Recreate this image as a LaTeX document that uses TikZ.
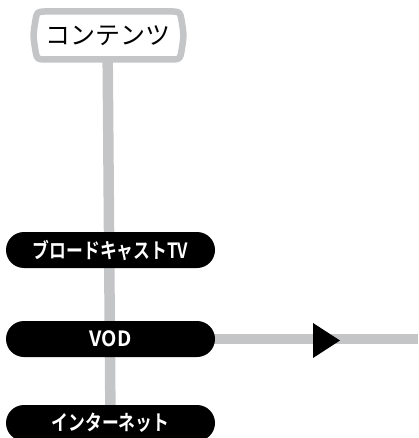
\documentclass[tikz,border=0pt]{standalone}
\usepackage{fontspec}
\newfontfamily\jp{Noto Sans CJK JP}
\newfontfamily\jpb{Noto Sans CJK JP Bold}
\usetikzlibrary{backgrounds}
\definecolor{linegray}{HTML}{C4C5C7}
\tikzset{
  pill/.style={fill=black, text=white, rounded corners=18pt, minimum width=209pt,
    minimum height=36pt, inner sep=0pt, font=\jpb\fontsize{21}{21}\selectfont},
  conn/.style={draw=linegray, line width=10.5pt},
  topbox/.style={draw=linegray, line width=6.5pt, fill=white, line join=round},
}
\begin{document}
\begin{tikzpicture}[x=1pt, y=-1pt]
\useasboundingbox (0,0) rectangle (418,438);
\node (cont) at (107.5,36) {\jp\fontsize{25}{25}\selectfont コンテンツ};
\node[pill] (btv) at (110.5,250) {\scalebox{0.8}[1]{ブロードキャストTV}};
\node[pill] (vod) at (110.5,339) {\scalebox{0.95}[1]{VOD}};
\node[pill] (net) at (110.5,423) {\scalebox{0.8}[1]{インターネット}};
\coordinate (east) at (418,339);
\coordinate (tip) at (340,340.5);
\begin{scope}[on background layer]
  \draw[conn] (cont.center) -- (net.center);
  \draw[conn] (vod.center) -- (east);
  \draw[topbox] (44,11.5) -- (173,11.5) .. controls (180,12) .. (181.5,20) .. controls (184,35.5) .. (181.5,51)
    .. controls (180,59) .. (173,59.5) -- (44,59.5) .. controls (37,59) .. (35.5,51) .. controls (33,35.5) .. (35.5,20) .. controls (37,12) .. cycle;
\end{scope}
\fill[black] (tip) -- ++(-27,-17.5) -- ++(0,35) -- cycle;
\end{tikzpicture}
\end{document}
